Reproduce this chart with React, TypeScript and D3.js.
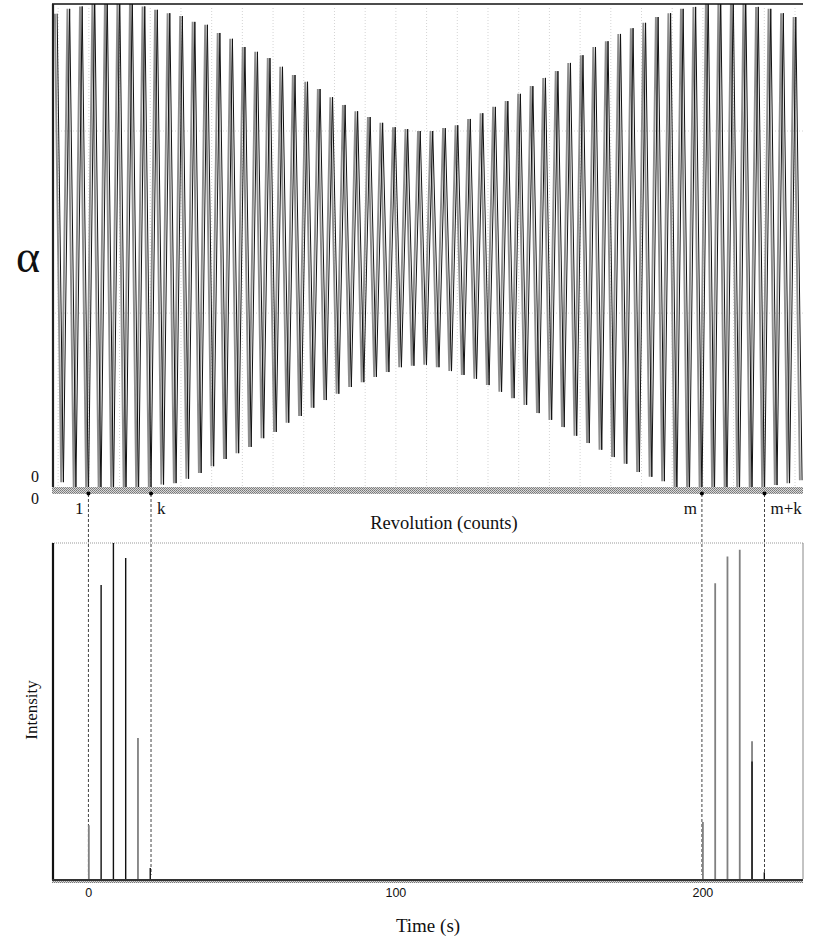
import * as d3 from 'd3';

// alpha at each crest / trough of the revolution trace (0 = axis, 1 = top frame)
const peaks = [
  0.98, 0.99, 0.995, 1.02, 1.02, 1.02, 1.02, 0.995, 0.988, 0.981,
  0.975, 0.963, 0.957, 0.94, 0.928, 0.911, 0.901, 0.888, 0.87, 0.853,
  0.839, 0.824, 0.807, 0.791, 0.778, 0.766, 0.754, 0.745, 0.741, 0.737,
  0.737, 0.743, 0.749, 0.762, 0.774, 0.787, 0.799, 0.814, 0.83, 0.847,
  0.861, 0.878, 0.894, 0.911, 0.923, 0.938, 0.95, 0.961, 0.973, 0.981,
  0.99, 0.994, 1.02, 1.02, 1.02, 1.02, 0.994, 0.99, 0.981, 0.973,
];
const troughs = [
  0.01, 0.0, -0.02, -0.02, -0.02, -0.02, -0.02, 0.0, 0.005, 0.008,
  0.017, 0.029, 0.043, 0.058, 0.07, 0.083, 0.101, 0.114, 0.133, 0.147,
  0.164, 0.18, 0.193, 0.207, 0.217, 0.228, 0.238, 0.248, 0.251, 0.253,
  0.248, 0.24, 0.232, 0.224, 0.211, 0.197, 0.184, 0.17, 0.153, 0.139,
  0.124, 0.106, 0.091, 0.077, 0.062, 0.048, 0.031, 0.021, 0.012, -0.02,
  -0.02, -0.02, -0.02, -0.02, -0.02, -0.02, -0.02, 0.004, 0.008, 0.014,
];

const markerRevs = [2.75, 7.75, 51.75, 56.75];
const markerLabels = ['1', 'k', 'm', 'm+k'];

const pulseTimes = [0, 4, 8, 12, 16, 20, 200, 204, 208, 212, 216, 220];
const grayIntensity = [0.16, 0, 0, 0, 0.42, 0, 0.17, 0.88, 0.96, 0.98, 0.41, 0];
const blackIntensity = [0, 0.875, 1.0, 0.955, 0, 0.033, 0, 0, 0, 0, 0.35, 0.02];
const timeTicks = [0, 100, 200];

const L = 52;
const R = 803;
const topY = 4;
const axisY = 487;
const bTop = 543;
const bBase = 879;

export default function App() {
  const xRev = d3.scaleLinear().domain([0, 60]).range([54, 805.2]);
  const yAlpha = d3.scaleLinear().domain([0, 1]).range([axisY, topY]);
  const xTime = d3.scaleLinear().domain([-12, 232.6]).range([L, R]);
  const yInt = d3.scaleLinear().domain([0, 1]).range([bBase, bTop]);

  const pts: [number, number][] = [];
  peaks.forEach((p, i) => {
    pts.push([i + 0.25, p]);
    pts.push([i + 0.75, troughs[i]]);
  });
  const line = d3
    .line<[number, number]>()
    .x((d) => xRev(d[0]))
    .y((d) => yAlpha(d[1]));
  const path = line(pts) || '';

  const gridTimes = d3.range(-10, 231, 10);
  const serif = '"Liberation Serif", "DejaVu Serif", serif';

  return (
    <svg
      width={830}
      height={937}
      style={{ position: 'absolute', left: 0, top: 0, background: '#fff' }}
      fontFamily={serif}
    >
      <defs>
        <clipPath id="topClip">
          <rect x={L} y={topY} width={R - L} height={axisY - topY} />
        </clipPath>
        <pattern id="hatch" width={2} height={2} patternUnits="userSpaceOnUse">
          <rect width={2} height={2} fill="#d8d8d8" />
          <rect width={1} height={1} fill="#777" />
          <rect x={1} y={1} width={1} height={1} fill="#888" />
        </pattern>
      </defs>

      {/* faint grid of the scan */}
      <g stroke="#d4d4d4" strokeWidth={1} strokeDasharray="1 2">
        {gridTimes.map((t) => (
          <line key={t} x1={xTime(t)} x2={xTime(t)} y1={topY + 4} y2={axisY} />
        ))}
        {[0.737, 0.36].map((a) => (
          <line key={a} x1={L} x2={R} y1={yAlpha(a)} y2={yAlpha(a)} />
        ))}
      </g>

      {/* revolution trace */}
      <g clipPath="url(#topClip)" fill="none">
        <path d={path} stroke="#8c8c8c" strokeWidth={1.9} transform="translate(-2.2,0)" />
        <path d={path} stroke="#111" strokeWidth={1} />
      </g>

      {/* top frame */}
      <line x1={L} x2={R} y1={topY} y2={topY} stroke="#111" strokeWidth={1.3} />
      <line x1={L + 1} x2={L + 1} y1={topY} y2={axisY} stroke="#222" strokeWidth={2.2} />
      <rect x={L} y={axisY} width={R - L} height={7} fill="url(#hatch)" />

      {/* markers */}
      {markerRevs.map((r, i) => {
        const x = xRev(r);
        const left = i % 2 === 0;
        return (
          <g key={r}>
            <line
              x1={x}
              x2={x}
              y1={axisY + 7}
              y2={bBase - 4}
              stroke="#444"
              strokeWidth={1}
              strokeDasharray="3 2"
            />
            <circle cx={x} cy={axisY + 6.5} r={2} fill="#000" />
            <text
              x={left ? x - 5 : x + 6}
              y={514}
              fontSize={17}
              textAnchor={left ? 'end' : 'start'}
              fill="#111"
            >
              {markerLabels[i]}
            </text>
          </g>
        );
      })}

      <text x={35} y={482} fontSize={16} textAnchor="middle" fill="#111">0</text>
      <text x={35} y={504} fontSize={16} textAnchor="middle" fill="#111">0</text>
      <text x={28} y={272} fontSize={46} textAnchor="middle" fill="#111">α</text>
      <text x={444} y={529} fontSize={18.5} textAnchor="middle" fill="#111">
        Revolution (counts)
      </text>

      {/* intensity frame */}
      <line x1={L} x2={R} y1={bTop} y2={bTop} stroke="#999" strokeWidth={1} strokeDasharray="1 1" />
      <line x1={R} x2={R} y1={bTop} y2={bBase} stroke="#888" strokeWidth={1} />
      <line x1={L + 1} x2={L + 1} y1={bTop} y2={bBase + 1} stroke="#111" strokeWidth={2.2} />

      {/* pulses */}
      {pulseTimes.map((t, i) => (
        <g key={t}>
          {grayIntensity[i] > 0 && (
            <line
              x1={xTime(t)}
              x2={xTime(t)}
              y1={bBase}
              y2={yInt(grayIntensity[i])}
              stroke="#808080"
              strokeWidth={1.8}
            />
          )}
          {blackIntensity[i] > 0 && (
            <line
              x1={xTime(t)}
              x2={xTime(t)}
              y1={bBase}
              y2={yInt(blackIntensity[i])}
              stroke="#111"
              strokeWidth={1.4}
            />
          )}
        </g>
      ))}

      <rect x={L} y={bBase} width={R - L} height={2} fill="#333" />
      <rect x={L} y={bBase + 2} width={R - L} height={2} fill="url(#hatch)" />

      {timeTicks.map((t) => (
        <text
          key={t}
          x={xTime(t)}
          y={897}
          fontSize={12.5}
          textAnchor="middle"
          fontFamily='"Liberation Sans Narrow", "Liberation Sans", sans-serif'
          fill="#111"
        >
          {t}
        </text>
      ))}
      <text x={428} y={932} fontSize={19} textAnchor="middle" fill="#111">Time (s)</text>
      <text
        transform="translate(37,710) rotate(-90)"
        fontSize={17}
        textAnchor="middle"
        fill="#111"
      >
        Intensity
      </text>
    </svg>
  );
}
